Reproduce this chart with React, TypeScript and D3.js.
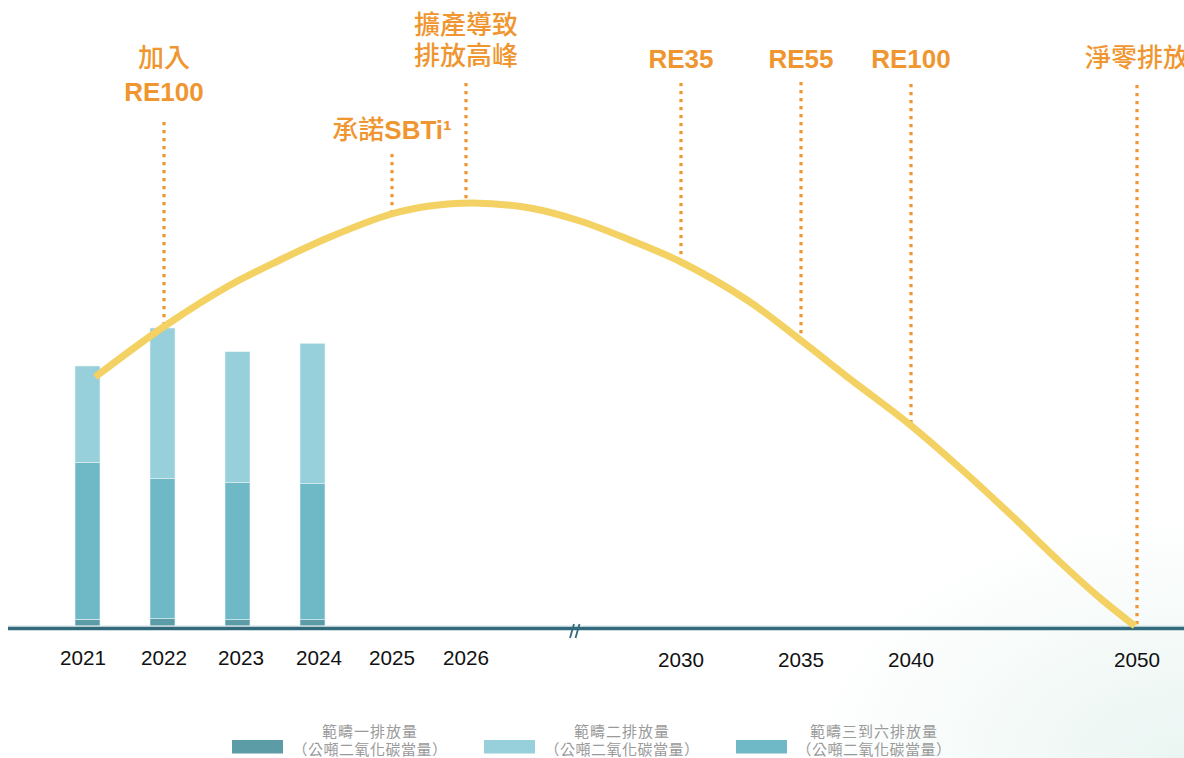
import React from 'react';
import * as d3 from 'd3';

// ---------- data ----------
const barYears = ['2021', '2022', '2023', '2024'];
const scope1 = [6.7, 7.3, 6.3, 6.3];
const scope3to6 = [156.6, 140, 137, 136];
const scope2 = [96.7, 150.7, 131, 140.4];

const tickYears = [2021, 2022, 2023, 2024, 2025, 2026, 2030, 2035, 2040, 2050];

const trajectoryYears = [2021.15, 2022.03, 2022.86, 2023.5, 2024.15, 2024.99, 2025.51, 2026.13, 2027.19, 2028.12, 2029.05, 2030, 2032.75, 2035.09, 2037.23, 2039.91, 2042.17, 2044.38, 2046.59, 2048.36, 2049.91];
const trajectoryValues = [249, 301, 341, 366, 389, 412, 420, 423, 418, 405, 386, 364, 326, 284, 247, 202, 158, 112, 64, 28, 0];

const milestoneYears = [2022, 2025, 2026, 2030, 2035, 2040, 2050];
const milestoneLabels = [['加入', 'RE100'], ['承諾SBTi¹'], ['擴產導致', '排放高峰'], ['RE35'], ['RE55'], ['RE100'], ['淨零排放']];

const legendNames = ['範疇一排放量', '範疇二排放量', '範疇三到六排放量'];
const legendUnit = '（公噸二氧化碳當量）';

// ---------- layout / style ----------
const W = 1184;
const H = 758;
const xRange = [83, 164, 241, 319, 392, 466, 681, 801, 911, 1137];
const milestoneTop = [122, 154, 83, 83, 82, 84, 85];
const labelBaselines = [[67, 101], [139], [34, 65], [68], [68], [68], [67]];
const ORANGE = '#ef9630';
const CURVE = '#f3d162';
const AXIS = '#336b7d';
const colors = { scope1: '#5c9ca6', scope3to6: '#6fb8c5', scope2: '#97cfdb' };
const legendKeys = ['scope1', 'scope2', 'scope3to6'] as const;
const CJK = '"Noto Sans CJK TC", "Noto Sans CJK SC", sans-serif';
const LATIN = '"Liberation Sans", Arial, sans-serif';

function splitRuns(s: string) {
  const runs: { t: string; cjk: boolean }[] = [];
  for (const ch of s) {
    const cjk = /[\u3000-\u9fff\uff00-\uffef]/.test(ch);
    const last = runs[runs.length - 1];
    if (last && last.cjk === cjk) last.t += ch;
    else runs.push({ t: ch, cjk });
  }
  return runs;
}

export default function App() {
  const x = d3.scaleLinear().domain(tickYears).range(xRange);
  const y = d3.scaleLinear().domain([0, 440]).range([626, 186]);
  const xb = d3.scaleBand<string>().domain(barYears).range([25, 375]).paddingInner(2 / 3).paddingOuter(2 / 3);

  const table = barYears.map((yr, i) => ({ year: yr, scope1: scope1[i], scope3to6: scope3to6[i], scope2: scope2[i] }));
  const stack = d3.stack<any>().keys(['scope1', 'scope3to6', 'scope2'])(table);

  const traj = trajectoryYears.map((yr, i) => [yr, trajectoryValues[i]] as [number, number]);
  const line = d3.line<[number, number]>().x(d => x(d[0])).y(d => y(d[1])).curve(d3.curveCatmullRom.alpha(0.5));
  const trajAt = d3.scaleLinear().domain(trajectoryYears).range(trajectoryValues).clamp(true);

  const breakX = (x(2026) + x(2030)) / 2 + 1;
  const axisY = 628.5;

  const legendSwatchX = [232, 484, 736];

  return (
    <svg width={W} height={H} style={{ position: 'absolute', left: 0, top: 0 }} xmlns="http://www.w3.org/2000/svg">
      <defs>
        <radialGradient id="bg" cx="1" cy="1" r="0.32">
          <stop offset="0" stopColor="#eaf5f2" />
          <stop offset="1" stopColor="#ffffff" />
        </radialGradient>
      </defs>
      <rect x={0} y={0} width={W} height={H} fill="url(#bg)" />

      {/* bars */}
      {stack.map(layer => (
        <g key={layer.key} fill={(colors as any)[layer.key]}>
          {layer.map((d, i) => (
            <rect key={i} x={xb(barYears[i])} width={xb.bandwidth()} y={y(d[1])} height={y(d[0]) - y(d[1])}
              stroke="#e6f3f6" strokeWidth={0.6} />
          ))}
        </g>
      ))}

      {/* axis */}
      <line x1={8} x2={W} y1={626} y2={626} stroke="#cfe2e7" strokeWidth={1} />
      <line x1={8} x2={W} y1={axisY} y2={axisY} stroke={AXIS} strokeWidth={3.6} />
      <line x1={breakX - 4.5} y1={638} x2={breakX - 0.5} y2={624} stroke={AXIS} strokeWidth={1.8} />
      <line x1={breakX + 1} y1={638} x2={breakX + 5} y2={624} stroke={AXIS} strokeWidth={1.8} />

      {/* tick labels */}
      {tickYears.map(yr => (
        <text key={yr} x={x(yr)} y={yr < 2028 ? 665 : 667} textAnchor="middle" fontFamily={LATIN} fontSize={21}
          textLength={46} lengthAdjust="spacingAndGlyphs" fill="#111">{yr}</text>
      ))}

      {/* milestone dotted lines */}
      {milestoneYears.map((yr, i) => (
        <line key={yr} x1={x(yr)} x2={x(yr)} y1={milestoneTop[i]}
          y2={yr === 2050 ? axisY : y(trajAt(yr))}
          stroke={ORANGE} strokeWidth={3.2} strokeDasharray="3.2 4.8" />
      ))}

      {/* trajectory curve */}
      <path d={line(traj) || ''} fill="none" stroke={CURVE} strokeWidth={7} strokeLinecap="butt" />

      {/* milestone labels */}
      {milestoneYears.map((yr, i) => (
        <g key={'l' + yr}>
          {milestoneLabels[i].map((txt, j) => (
            <text key={j} x={x(yr)} y={labelBaselines[i][j]} textAnchor="middle" fill={ORANGE} fontSize={26}>
              {splitRuns(txt).map((r, k) => (
                <tspan key={k} fontFamily={r.cjk ? CJK : LATIN} fontWeight={r.cjk ? 500 : 700}>{r.t}</tspan>
              ))}
            </text>
          ))}
        </g>
      ))}

      {/* legend */}
      {legendKeys.map((k, i) => (
        <g key={k}>
          <rect x={legendSwatchX[i]} y={740} width={51} height={13.5} fill={(colors as any)[k]} />
          <text x={legendSwatchX[i] + 138} y={736.5} textAnchor="middle" fontFamily={CJK} fontSize={15} letterSpacing={1}
            fill="#9a9a9a">{legendNames[i]}</text>
          <text x={legendSwatchX[i] + 138} y={755} textAnchor="middle" fontFamily={CJK} fontSize={15} letterSpacing={0.5}
            fill="#9a9a9a">{legendUnit}</text>
        </g>
      ))}
    </svg>
  );
}
